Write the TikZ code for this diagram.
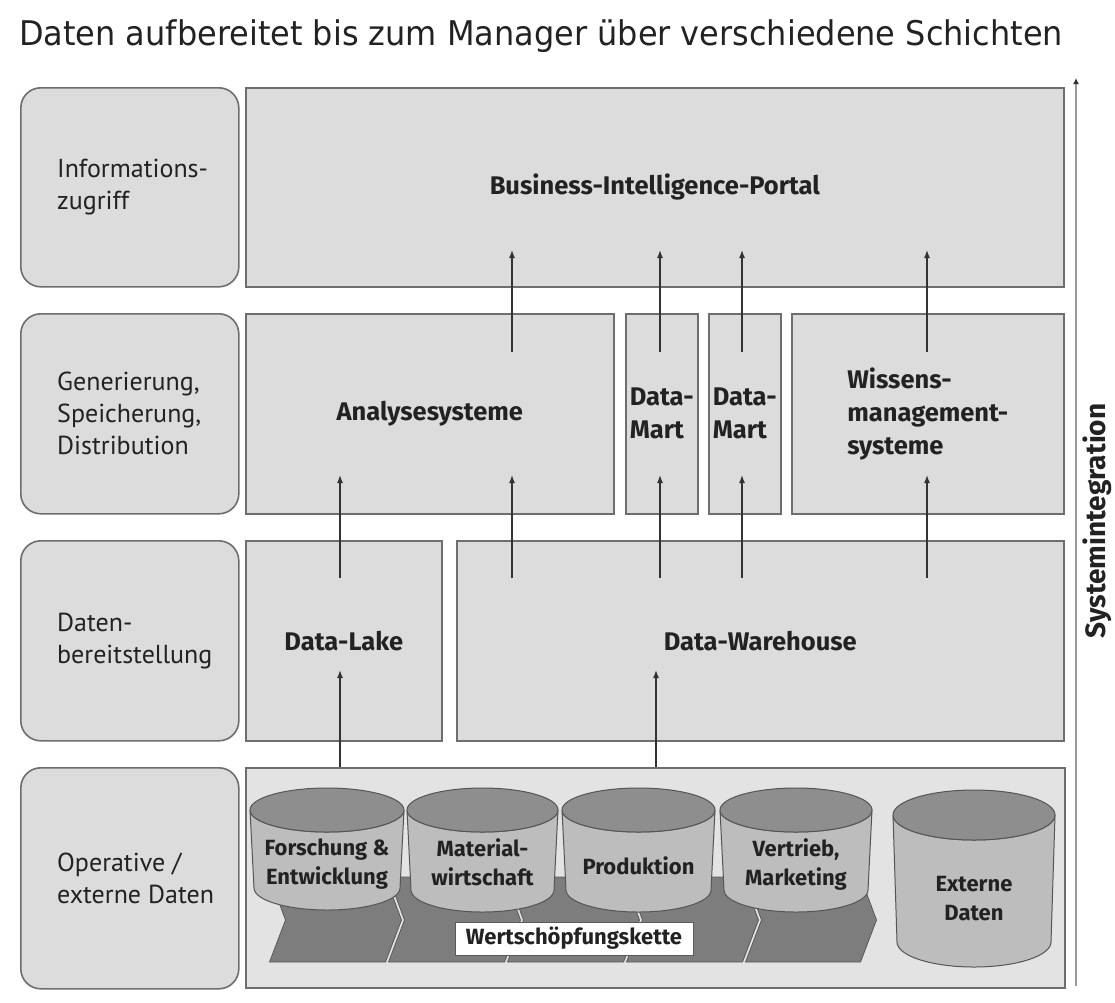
\documentclass[tikz,border=0pt]{standalone}
\usepackage{fontspec}
\setmainfont{PT Sans}
\newfontfamily\titlef{DejaVu Sans}[FakeStretch=0.94]
\newfontfamily\lblf{PT Sans}
\newfontfamily\bldf{Fira Sans}
\usetikzlibrary{arrows.meta}
\definecolor{boxgray}{HTML}{DCDCDC}
\definecolor{opsgray}{HTML}{E3E3E3}
\definecolor{bordergray}{HTML}{6E6E6E}
\definecolor{cyltop}{HTML}{8E8E8E}
\definecolor{cylbody}{HTML}{BDBDBD}
\definecolor{cylline}{HTML}{555555}
\definecolor{chev}{HTML}{7D7D7D}
\definecolor{chevline}{HTML}{5A5A5A}
\definecolor{txt}{HTML}{222222}
\definecolor{arr}{HTML}{333333}
\definecolor{sysline}{HTML}{9A9A9A}
\newcommand\mybox[7]{\node[#2, anchor=north west, minimum width={(#5-#3)*1pt}, minimum height={(#6-#4)*1pt}] (#1) at (#3,#4) {#7};}
\newcommand\mycyl[7]{%
  \filldraw[fill=cylbody, draw=cylline, line width=1pt] (#2,#4) -- (#2+4,#5)
    arc[start angle=180, end angle=360, x radius={((#3-#2)/2-4)*1pt}, y radius={#6*1pt}]
    -- (#3,#4)
    arc[start angle=0, end angle=-180, x radius={((#3-#2)/2)*1pt}, y radius={#6*1pt}] -- cycle;
  \filldraw[fill=cyltop, draw=cylline, line width=1pt] ({(#2+#3)/2},#4) ellipse [x radius={((#3-#2)/2)*1pt}, y radius={#6*1pt}];
  \coordinate (#1) at ({(#2+#3)/2},#7);}
\newcommand\mychev[3]{%
  \filldraw[fill=chev, draw=chevline, line width=0.8pt] (#2+1.5,877) -- (#3-1.5,877) -- (#3+14.5,920) -- (#3-1.5,962) -- (#2+1.5,962) -- (#2+17.5,920) -- cycle;
  \coordinate (#1) at ({(#2+#3)/2+8},920);}
\begin{document}
\begin{tikzpicture}[x=1pt,y=-1pt,
  layer/.style={draw=bordergray, line width=1.6pt, fill=boxgray, rounded corners=20pt, inner sep=0pt},
  box/.style={draw=bordergray, line width=1.6pt, fill=boxgray, inner sep=0pt, text=txt, font=\bldf\bfseries\fontsize{25.5}{33}\selectfont, align=left},
  opsbox/.style={draw=bordergray, line width=1.6pt, fill=opsgray, inner sep=0pt},
  lbl/.style={anchor=west, inner sep=0pt, text=txt, font=\lblf\fontsize{26}{32}\selectfont, align=left},
  cyltext/.style={inner sep=0pt, text=txt, font=\bldf\bfseries\fontsize{22}{29}\selectfont, align=center},
  uparrow/.style={draw=arr, line width=1.3pt, -{Latex[length=8pt,width=6pt]}},
  sysarrow/.style={draw=sysline, line width=2.4pt, -{Latex[length=6pt,width=6pt,color=arr]}}]
\useasboundingbox (0,0) rectangle (1115,1002);
\fill[white] (0,0) rectangle (1115,1002);

\node[anchor=base west, inner sep=0pt, text=txt, font=\titlef\fontsize{34}{40}\selectfont] (title) at (19,45) {Daten aufbereitet bis zum Manager über verschiedene Schichten};

% left layer boxes
\mybox{l1}{layer}{20}{87}{238}{286}{}
\mybox{l2}{layer}{20}{313}{238}{513}{}
\mybox{l3}{layer}{20}{540}{238}{740}{}
\mybox{l4}{layer}{20}{767}{238}{988}{}
\node[lbl] (l1t) at ([xshift=37pt]l1.west) {Informations-\\zugriff};
\node[lbl] (l2t) at ([xshift=37pt]l2.west) {Generierung,\\Speicherung,\\Distribution};
\node[lbl] (l3t) at ([xshift=37pt]l3.west) {Daten-\\bereitstellung};
\node[lbl] (l4t) at ([xshift=37pt]l4.west) {Operative /\\externe Daten};

% content boxes
\mybox{bi}{box}{245}{87}{1063}{286}{Business-Intelligence-Portal}
\mybox{ana}{box}{245}{313}{613}{513}{Analysesysteme}
\mybox{dm1}{box}{625}{313}{697}{513}{Data-\\Mart}
\mybox{dm2}{box}{708}{313}{780}{513}{Data-\\Mart}
\mybox{wis}{box}{791}{313}{1063}{513}{Wissens-\\management-\\systeme}
\mybox{lake}{box}{245}{540}{441}{740}{Data-Lake}
\mybox{dwh}{box}{456}{540}{1063}{740}{Data-Warehouse}
\mybox{ops}{opsbox}{245}{767}{1064}{987}{}

% value chain
\mychev{v1}{268}{387}
\mychev{v2}{387}{506}
\mychev{v3}{506}{625}
\mychev{v4}{625}{744}
\mychev{v5}{744}{862}

% databases
\mycyl{c1}{250}{404}{810}{888}{22}{864}
\mycyl{c2}{407}{558}{810}{890}{22}{862}
\mycyl{c3}{562}{715}{810}{890}{22}{866}
\mycyl{c4}{720}{872}{810}{890}{22}{865}
\mycyl{c5}{893}{1055}{815}{942}{25}{899}
\node[cyltext] (c1t) at (c1) {Forschung \&\\Entwicklung};
\node[cyltext] (c2t) at (c2) {Material-\\wirtschaft};
\node[cyltext] (c3t) at (c3) {Produktion};
\node[cyltext] (c4t) at (c4) {Vertrieb,\\Marketing};
\node[cyltext] (c5t) at (c5) {Externe\\Daten};

\node[draw=chevline, line width=1pt, fill=white, inner sep=0pt, minimum width=238pt, minimum height=33pt, text=txt, font=\bldf\bfseries\fontsize{22}{24}\selectfont] (wsk) at (574,938.5) {Wertschöpfungskette};

% arrows layer 3 -> 2 -> 1
\foreach \n/\x in {a/512, b/660, c/742, d/927}{
  \coordinate (u\n s) at (\x,352);
  \coordinate (u\n e) at (\x,250);
  \draw[uparrow] (u\n s) -- (u\n e);
}
\foreach \n/\x in {a/340, b/512, c/660, d/742, e/927}{
  \coordinate (m\n s) at (\x,578);
  \coordinate (m\n e) at (\x,475);
  \draw[uparrow] (m\n s) -- (m\n e);
}
\coordinate (las) at (340,767);
\coordinate (lae) at (340,670);
\draw[uparrow] (las) -- (lae);
\coordinate (dws) at (656,767);
\coordinate (dwe) at (656,670);
\draw[uparrow] (dws) -- (dwe);

% system integration
\coordinate (sysb) at (1076,986);
\coordinate (syst) at (1076,78);
\draw[sysarrow] (sysb) -- (syst);
\node[rotate=90, inner sep=0pt, text=txt, font=\bldf\bfseries\fontsize{28}{30}\selectfont] (sys) at (1097,521) {Systemintegration};
\end{tikzpicture}
\end{document}
